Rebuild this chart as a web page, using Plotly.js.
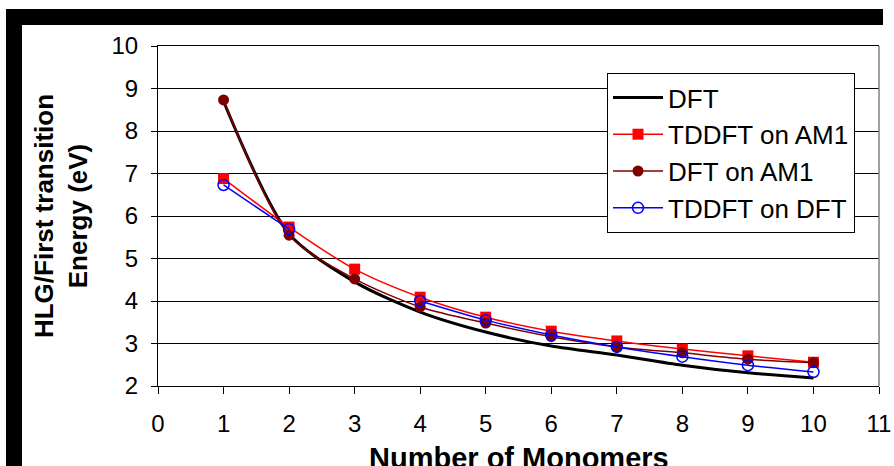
<!DOCTYPE html>
<html>
<head>
<meta charset="utf-8">
<script src="https://cdn.plot.ly/plotly-3.0.1.min.js"></script>
<style>
html,body{margin:0;padding:0;background:#fff;}
#chart{width:894px;height:466px;}
</style>
</head>
<body>
<div id="chart"></div>
<script>
// ---- data ----
var monomers = [1, 2, 3, 4, 5, 6, 7, 8, 9, 10];
var dft = [8.70, 5.58, 4.45, 3.74, 3.27, 2.94, 2.73, 2.49, 2.31, 2.19];
var tddftOnAM1 = [6.88, 5.74, 4.75, 4.09, 3.62, 3.29, 3.06, 2.87, 2.71, 2.56];
var dftOnAM1 = [8.73, 5.55, 4.52, 3.86, 3.48, 3.16, 2.92, 2.78, 2.63, 2.55];
var tddftOnDFT = [6.73, 5.69, null, 4.00, 3.55, 3.20, 2.92, 2.69, 2.49, 2.33];
var seriesNames = ["DFT", "TDDFT on AM1", "DFT on AM1", "TDDFT on DFT"];
var xTitle = "Number of Monomers";
var yTitle = "HLG/First transition<br>Energy (eV)";

// ---- layout helpers (pixel -> paper) ----
var W = 894, H = 466;
var M = {l: 158, r: 15, t: 46, b: 80};
var pw = W - M.l - M.r, ph = H - M.t - M.b;
function px(x) { return (x - M.l) / pw; }
function py(y) { return (H - M.b - y) / ph; }

var FONT = "Liberation Sans, Arial, sans-serif";

var traces = [
  {x: monomers, y: dft, name: seriesNames[0], mode: "lines",
   line: {color: "#000000", width: 3, shape: "spline", smoothing: 0.8}},
  {x: monomers, y: tddftOnAM1, name: seriesNames[1], mode: "lines+markers",
   line: {color: "#FF0000", width: 1.5, shape: "spline", smoothing: 0.8},
   marker: {symbol: "square", size: 11, color: "#FF0000"}},
  {x: monomers, y: dftOnAM1, name: seriesNames[2], mode: "lines+markers",
   line: {color: "#800000", width: 1.5, shape: "spline", smoothing: 0.8},
   marker: {symbol: "circle", size: 11, color: "#800000"}},
  {x: monomers, y: tddftOnDFT, name: seriesNames[3], mode: "lines+markers", connectgaps: false,
   line: {color: "#0000FF", width: 1.5, shape: "spline", smoothing: 0.8},
   marker: {symbol: "circle-open", size: 11, color: "#0000FF", line: {width: 1.5, color: "#0000FF"}}}
];

var layout = {
  width: W, height: H,
  margin: M,
  paper_bgcolor: "#ffffff",
  plot_bgcolor: "#ffffff",
  font: {family: FONT, color: "#000000", size: 24},
  showlegend: true,
  legend: {
    x: px(607), y: py(73), xanchor: "left", yanchor: "top",
    bgcolor: "#ffffff", bordercolor: "#000000", borderwidth: 1,
    font: {family: FONT, size: 26, color: "#000000"},
    itemwidth: 50,
    tracegroupgap: 0
  },
  xaxis: {
    range: [0, 11], dtick: 1, tick0: 0,
    showgrid: false, zeroline: false,
    showline: true, linecolor: "#000000", linewidth: 1, mirror: true,
    ticks: "outside", ticklen: 7, tickcolor: "#000000",
    ticklabelstandoff: 9,
    tickfont: {family: FONT, size: 24, color: "#000000"}
  },
  yaxis: {
    range: [2, 10], dtick: 1, tick0: 2,
    showgrid: true, gridcolor: "#000000", gridwidth: 1,
    zeroline: false,
    showline: true, linecolor: "#000000", linewidth: 1,
    ticks: "outside", ticklen: 6, tickcolor: "#000000",
    ticklabelstandoff: 8,
    tickfont: {family: FONT, size: 24, color: "#000000"},
    title: {text: yTitle, font: {family: FONT, size: 26, color: "#000000", weight: "bold"}, standoff: 16}
  },
  annotations: [
    {text: "<b>" + xTitle + "</b>", xref: "paper", yref: "paper",
     x: 0.5, y: py(440), xanchor: "center", yanchor: "top", showarrow: false,
     font: {family: FONT, size: 29, color: "#000000"}}
  ],
  shapes: [
    // thick black frame pieces of the chart area
    {type: "rect", xref: "paper", yref: "paper", x0: px(6), x1: px(883), y0: py(25), y1: py(9),
     fillcolor: "#000000", line: {width: 0}, layer: "above"},
    {type: "rect", xref: "paper", yref: "paper", x0: px(6), x1: px(22), y0: py(466), y1: py(9),
     fillcolor: "#000000", line: {width: 0}, layer: "above"},
    // grey right border of plot area
    {type: "line", xref: "paper", yref: "paper", x0: 1, x1: 1, y0: 0, y1: 1,
     line: {color: "#808080", width: 1.5}, layer: "above"}
  ]
};

Plotly.newPlot("chart", traces, layout, {staticPlot: true, displayModeBar: false});
</script>
</body>
</html>
